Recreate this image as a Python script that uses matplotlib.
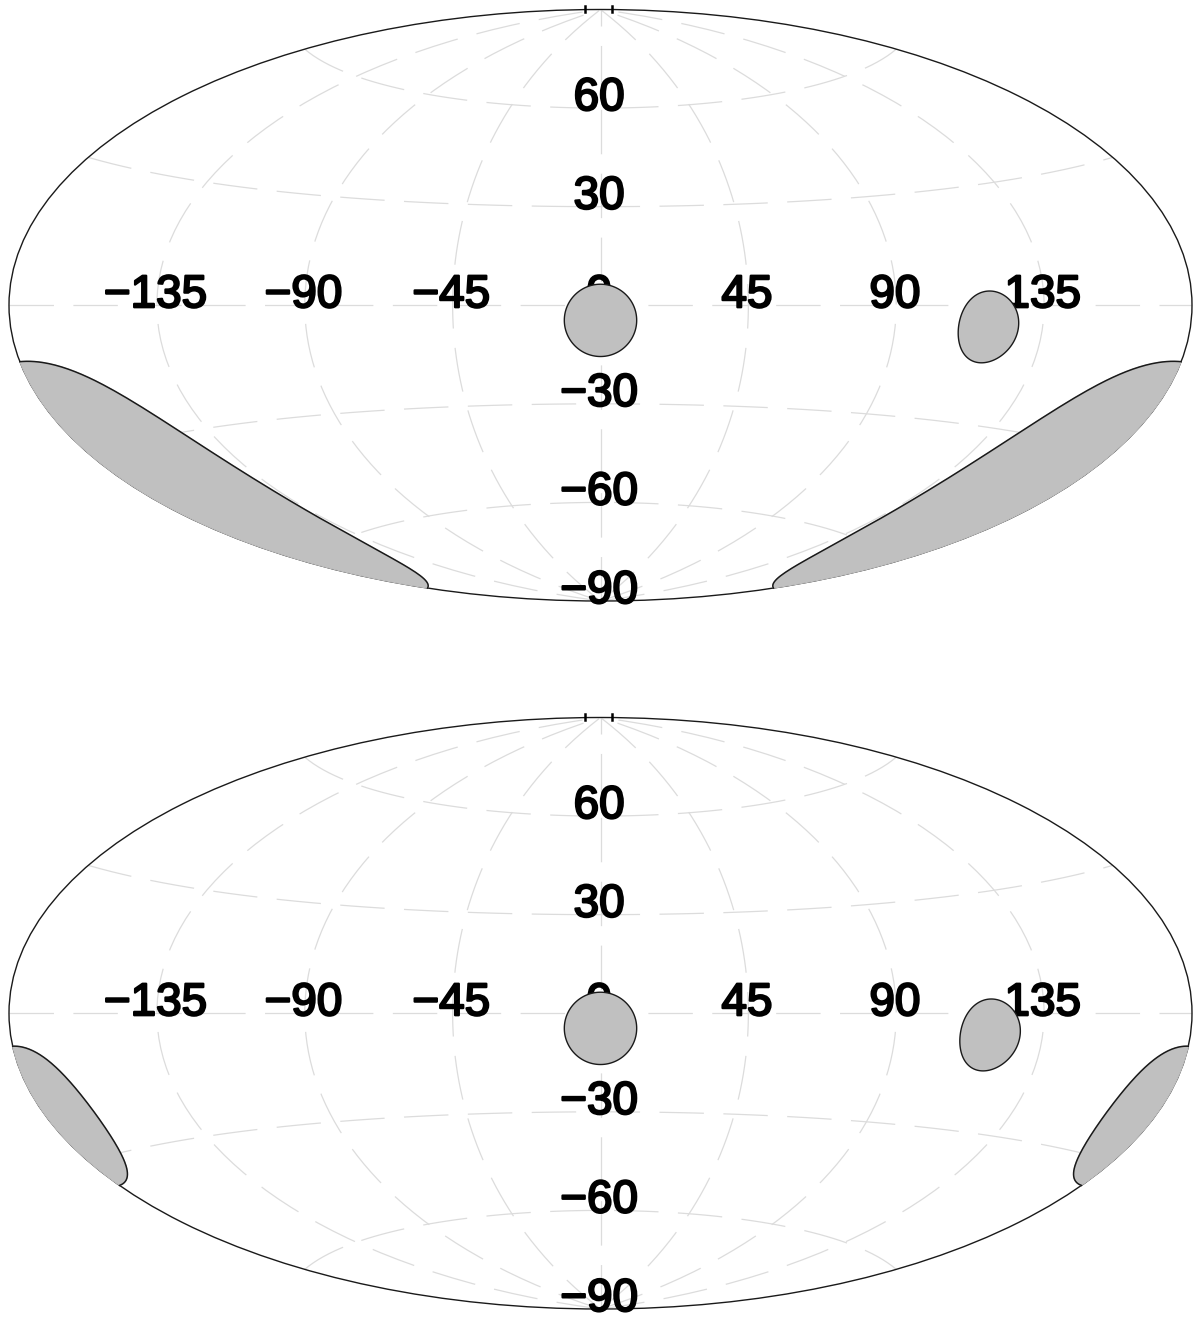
import numpy as np
import matplotlib
matplotlib.use("Agg")
import matplotlib.pyplot as plt
import matplotlib.patheffects as pe

plt.rcParams['font.family'] = ['Liberation Sans', 'DejaVu Sans']
plt.rcParams['lines.scale_dashes'] = False

# Axis labels (degrees)
lon_ticks = [-135, -90, -45, 0, 45, 90, 135]
lat_ticks = [60, 30, -30, -60, -90]

# Small exclusion discs: lon, lat, radius (degrees)
disc_lons = [0.0, 118.5]
disc_lats = [-4.6, -5.5]
disc_radii = [11.0, 9.1]
disc_lons_lower = [0.0, 119.0]
disc_lats_lower = [-4.6, -5.5]

# Anti-centre cap on the lon=180 meridian: lat, radius (degrees)
cap_lat_upper = -42.0
cap_rad_upper = 31.0
cap_lat_lower = -21.0
cap_rad_lower = 14.6

GRAY = '#c0c0c0'
GRID = '#dcdcdc'
W, H = 1200, 1324


def disc_outline(lon0, lat0, rad):
    b = np.linspace(0, 2 * np.pi, 181)
    p0, l0, r = np.radians(lat0), np.radians(lon0), np.radians(rad)
    lat = np.arcsin(np.sin(p0) * np.cos(r) + np.cos(p0) * np.sin(r) * np.cos(b))
    lon = l0 + np.arctan2(np.sin(b) * np.sin(r) * np.cos(p0),
                          np.cos(r) - np.sin(p0) * np.sin(lat))
    return lon, lat


def cap_outline(lat0, rad):
    p0, r = np.radians(lat0), np.radians(rad)
    t = np.linspace(-np.pi / 2, np.pi / 2, 181)
    lat = p0 + r * np.sin(t)
    c = (np.cos(r) - np.sin(lat) * np.sin(p0)) / (np.cos(lat) * np.cos(p0))
    return np.arccos(np.clip(c, -1, 1)), lat


def label(ax, value, xy):
    txt = f'\u2212{abs(value)}' if value < 0 else str(value)
    ax.annotate(txt, xy=xy, xytext=(-1, 7.2), textcoords='offset points',
                ha='center', va='center', fontsize=33, color='black', zorder=4,
                annotation_clip=False,
                path_effects=[pe.withStroke(linewidth=1.6, foreground='black')])


def panel(fig, top_px, cap_lat, cap_rad, dlons, dlats):
    ax = fig.add_axes([9 / W, (H - top_px - 591.5) / H, 1183 / W, 591.5 / H],
                      projection='aitoff')
    ax.set_longitude_grid(45)
    ax.set_latitude_grid(30)
    ax.set_longitude_grid_ends(90)
    ax.grid(True, color=GRID, lw=0.9, ls=(0, (32, 14)))
    ax.tick_params(labelbottom=False, labelleft=False)
    ax.set_xticklabels([])
    ax.set_yticklabels([])
    for s in ax.spines.values():
        s.set_linewidth(1.0)
        s.set_edgecolor('#1a1a1a')

    for lon in lon_ticks:
        label(ax, lon, (np.radians(lon), 0))
    for lat in lat_ticks:
        label(ax, lat, (0, np.radians(lat)))

    off, lat = cap_outline(cap_lat, cap_rad)
    for sgn in (-1, 1):
        lon = sgn * (np.pi - off)
        ax.fill(lon, lat, facecolor=GRAY, edgecolor=GRAY, lw=0.8, zorder=5,
                clip_on=False)
        ax.plot(lon, lat, color='#1a1a1a', lw=1.1, zorder=6, clip_on=False)

    for lo, la, r in zip(dlons, dlats, disc_radii):
        x, y = disc_outline(lo, la, r)
        ax.fill(x, y, facecolor=GRAY, edgecolor='#1a1a1a', lw=1.0, zorder=5)

    for xt in (0.4865, 0.5093):
        ax.plot([xt, xt], [0.9965, 1.006], transform=ax.transAxes, color='black',
                lw=1.8, clip_on=False, zorder=6)
    return ax


fig = plt.figure(figsize=(12, 13.24), dpi=100)
panel(fig, 9.5, cap_lat_upper, cap_rad_upper, disc_lons, disc_lats)
panel(fig, 717.5, cap_lat_lower, cap_rad_lower, disc_lons_lower, disc_lats_lower)
fig.savefig('out.png', dpi=100)
